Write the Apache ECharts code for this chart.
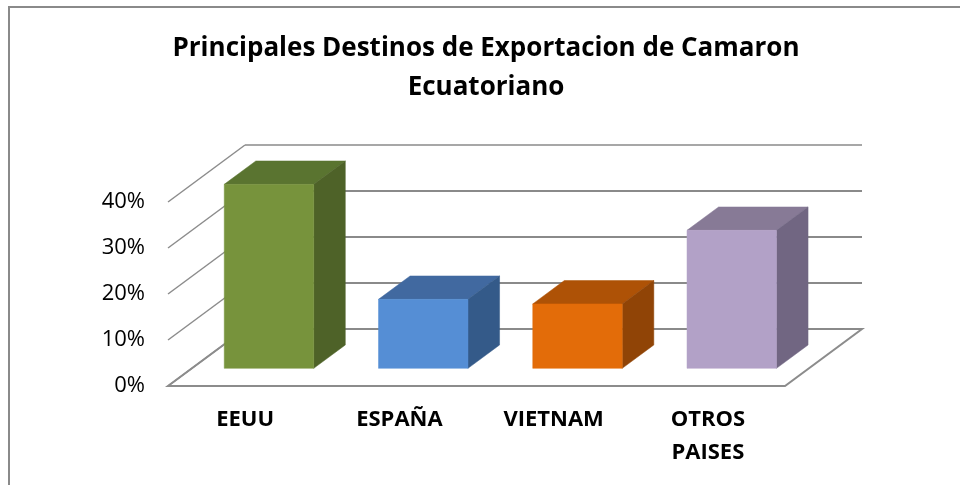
<!DOCTYPE html>
<html>
<head>
<meta charset="utf-8">
<script src="https://cdn.jsdelivr.net/npm/echarts@6/dist/echarts.min.js"></script>
<style>html,body{margin:0;padding:0;background:#fff;}#c{width:960px;height:485px;}</style>
</head>
<body>
<div id="c"></div>
<script>
// ---- data ----
const categories = ['EEUU', 'ESPAÑA', 'VIETNAM', 'OTROS\nPAISES'];
const shares = [40, 15, 14, 30];          // percent
const tickValues = [0, 10, 20, 30, 40];   // value axis ticks (percent)

// ---- styles ----
const frontColors = ['#77933C', '#558ED5', '#E36C09', '#B2A1C7'];
const topColors   = ['#5A7430', '#4169A0', '#AE5206', '#877A96'];
const sideColors  = ['#4E6228', '#345A89', '#904406', '#716682'];
const DX = 77, DY = -57;      // depth offset of the 3D box (pixels)
const D0 = 0.31, D1 = 0.72;   // bar front/back depth fractions
const BAR_W = 0.58;           // bar width as share of category band

const chart = echarts.init(document.getElementById('c'), null, {renderer: 'canvas'});

function renderWall(params, api) {
  const v = api.value(1);
  const n = categories.length;
  const band = api.size([1, 0])[0];
  const pL = api.coord([0, v]);
  const pR = api.coord([n - 1, v]);
  const L = pL[0] - band / 2, R = pR[0] + band / 2, y = pL[1];
  const children = [];
  if (v === 0) {
    children.push({
      type: 'polygon',
      shape: {points: [[L, y], [R, y], [R + DX, y + DY], [L + DX, y + DY]]},
      style: {fill: '#ffffff', stroke: '#8c8c8c', lineWidth: 2}
    });
  }
  children.push({
    type: 'line',
    shape: {x1: L, y1: y, x2: L + DX, y2: y + DY},
    style: {stroke: '#8c8c8c', lineWidth: 1.5}
  });
  children.push({
    type: 'line',
    shape: {x1: L + DX, y1: y + DY, x2: R + DX, y2: y + DY},
    style: {stroke: '#8a8a8a', lineWidth: v === tickValues[tickValues.length - 1] ? 1.5 : 2}
  });
  return {type: 'group', children: children};
}

function renderBar(params, api) {
  const i = api.value(0), v = api.value(1);
  const band = api.size([1, 0])[0];
  const w = band * BAR_W;
  const cT = api.coord([i, v]);
  const cB = api.coord([i, 0]);
  const x0 = cT[0] - w / 2, x1 = cT[0] + w / 2;
  const yT = cT[1], yB = cB[1];
  const fx = DX * D0, fy = DY * D0, bx = DX * D1, by = DY * D1;
  const idx = params.dataIndex;
  return {
    type: 'group',
    children: [
      {type: 'polygon', shape: {points: [[x0 + fx, yT + fy], [x1 + fx, yT + fy], [x1 + bx, yT + by], [x0 + bx, yT + by]]},
       style: {fill: topColors[idx], stroke: topColors[idx], lineWidth: 0.5}},
      {type: 'polygon', shape: {points: [[x1 + fx, yT + fy], [x1 + bx, yT + by], [x1 + bx, yB + by], [x1 + fx, yB + fy]]},
       style: {fill: sideColors[idx], stroke: sideColors[idx], lineWidth: 0.5}},
      {type: 'polygon', shape: {points: [[x0 + fx, yT + fy], [x1 + fx, yT + fy], [x1 + fx, yB + fy], [x0 + fx, yB + fy]]},
       style: {fill: frontColors[idx], stroke: frontColors[idx], lineWidth: 0.5}}
    ]
  };
}

const option = {
  animation: false,
  backgroundColor: '#ffffff',
  title: {
    text: 'Principales Destinos de Exportacion de Camaron\nEcuatoriano',
    left: 486,
    top: 29,
    textAlign: 'center',
    padding: 0,
    textStyle: {fontFamily: 'Open Sans', fontWeight: 'bold', fontSize: 26, lineHeight: 39, color: '#000'}
  },
  graphic: [{
    type: 'rect', z: -1,
    shape: {x: 9, y: 7, width: 1000, height: 1000},
    style: {fill: 'none', stroke: '#8a8a8a', lineWidth: 2}
  }],
  grid: {left: 168, right: 175, top: 202, bottom: 99, containLabel: false},
  xAxis: {
    type: 'category',
    data: categories,
    axisLine: {show: false},
    axisTick: {show: false},
    splitLine: {show: false},
    axisLabel: {fontFamily: 'Open Sans', fontWeight: 'bold', fontSize: 22, lineHeight: 33, color: '#000', margin: 17, interval: 0}
  },
  yAxis: {
    type: 'value',
    min: 0, max: 40, interval: 10,
    axisLine: {show: false},
    axisTick: {show: false},
    splitLine: {show: false},
    axisLabel: {formatter: '{value}%', fontFamily: 'Open Sans', fontSize: 22, color: '#000', margin: 23}
  },
  series: [
    {
      type: 'custom', name: 'walls', z: 1, silent: true,
      renderItem: renderWall,
      encode: {x: 0, y: 1},
      data: tickValues.map(v => [0, v])
    },
    {
      type: 'custom', name: 'Destinos', z: 2,
      renderItem: renderBar,
      encode: {x: 0, y: 1},
      data: shares.map((v, i) => [i, v])
    }
  ]
};
chart.setOption(option);
</script>
</body>
</html>
